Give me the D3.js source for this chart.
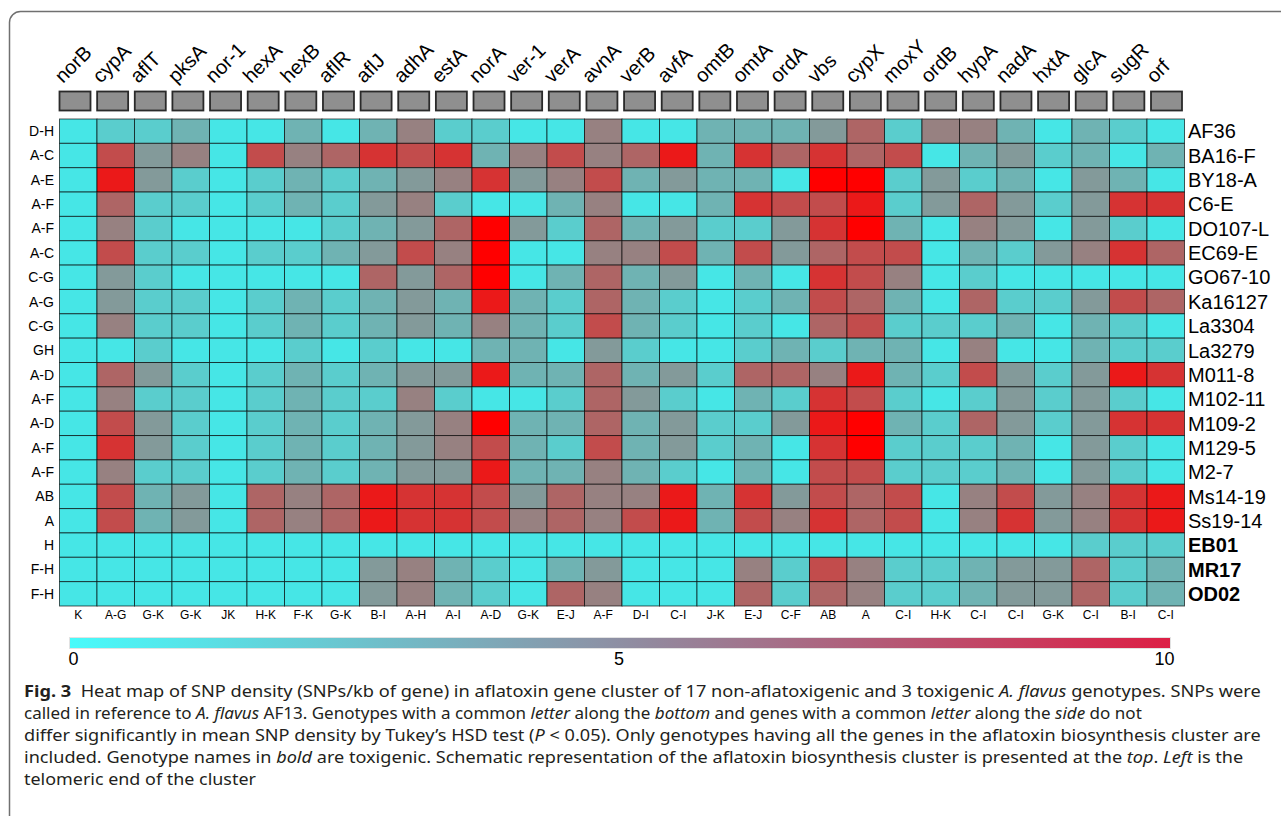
<!DOCTYPE html>
<html>
<head>
<meta charset="utf-8">
<script src="https://cdn.jsdelivr.net/npm/d3@7"></script>
<style>
body { margin: 0; background: #fff; }
svg { display: block; }
</style>
</head>
<body>
<div id="chart"></div>
<script>
// genes of the aflatoxin cluster, telomeric end first
var genes = ["norB","cypA","aflT","pksA","nor-1","hexA","hexB","aflR","aflJ","adhA",
	"estA","norA","ver-1","verA","avnA","verB","avfA","omtB","omtA","ordA",
	"vbs","cypX","moxY","ordB","hypA","nadA","hxtA","glcA","sugR","orf"];

var genotypes = ["AF36","BA16-F","BY18-A","C6-E","DO107-L","EC69-E","GO67-10","Ka16127",
	"La3304","La3279","M011-8","M102-11","M109-2","M129-5","M2-7","Ms14-19","Ss19-14",
	"EB01","MR17","OD02"];
var toxigenic = ["EB01","MR17","OD02"];

// Tukey letters: side = genotypes, bottom = genes
var genotypeLetters = ["D-H","A-C","A-E","A-F","A-F","A-C","C-G","A-G","C-G","GH",
	"A-D","A-F","A-D","A-F","A-F","AB","A","H","F-H","F-H"];
var geneLetters = ["K","A-G","G-K","G-K","JK","H-K","F-K","G-K","B-I","A-H",
	"A-I","A-D","G-K","E-J","A-F","D-I","C-I","J-K","E-J","C-F",
	"AB","A","C-I","H-K","C-I","C-I","G-K","C-I","B-I","C-I"];

// SNPs/kb, one row per genotype (same order as genotypes)
var density = [
	[0,1.1,1.1,2.2,0,0,2.2,0,2.2,4.4,1.1,1.1,0,0,4.4,0,0,2.2,2.2,2.2,3.3,5.6,1.1,4.4,4.4,2.2,0,2.2,1.1,0],
	[0,6.7,3.3,4.4,0,6.7,4.4,5.6,7.8,6.7,7.8,2.2,4.4,6.7,4.4,5.6,8.9,2.2,7.8,5.6,7.8,5.6,6.7,0,2.2,3.3,1.1,2.2,0,2.2],
	[0,8.9,3.3,1.1,0,1.1,2.2,1.1,2.2,3.3,4.4,7.8,3.3,4.4,6.7,2.2,3.3,2.2,2.2,0,10,10,1.1,3.3,1.1,2.2,0,3.3,2.2,0],
	[0,5.6,1.1,1.1,0,1.1,2.2,1.1,3.3,4.4,1.1,0,0,2.2,4.4,0,0,2.2,7.8,6.7,6.7,8.9,1.1,3.3,5.6,3.3,1.1,3.3,7.8,7.8],
	[0,4.4,1.1,0,0,0,0,1.1,2.2,3.3,5.6,10,3.3,1.1,5.6,2.2,3.3,1.1,1.1,3.3,7.8,10,2.2,0,4.4,3.3,0,3.3,1.1,0],
	[0,6.7,1.1,1.1,0,1.1,1.1,2.2,3.3,6.7,4.4,10,0,0,4.4,4.4,6.7,2.2,6.7,3.3,5.6,6.7,6.7,0,2.2,1.1,3.3,4.4,7.8,5.6],
	[0,3.3,1.1,0,0,0,0,0,5.6,3.3,5.6,10,0,2.2,5.6,2.2,3.3,0,2.2,0,7.8,6.7,4.4,0,1.1,0,0,0,0,0],
	[0,3.3,1.1,1.1,0,1.1,2.2,1.1,2.2,3.3,2.2,8.9,2.2,1.1,5.6,2.2,1.1,0,1.1,2.2,6.7,5.6,2.2,0,5.6,1.1,1.1,3.3,6.7,5.6],
	[0,4.4,1.1,1.1,0,1.1,2.2,1.1,2.2,3.3,2.2,4.4,2.2,1.1,6.7,2.2,1.1,0,1.1,0,5.6,6.7,1.1,1.1,1.1,2.2,0,2.2,1.1,0],
	[0,0,1.1,0,0,0,1.1,0,1.1,0,0,2.2,2.2,0,3.3,1.1,0,0,1.1,2.2,1.1,2.2,2.2,0,4.4,0,0,2.2,1.1,1.1],
	[0,5.6,3.3,1.1,0,1.1,2.2,1.1,2.2,3.3,3.3,8.9,2.2,2.2,5.6,2.2,3.3,1.1,5.6,5.6,4.4,8.9,2.2,1.1,6.7,3.3,1.1,3.3,8.9,7.8],
	[0,4.4,1.1,1.1,0,1.1,2.2,1.1,1.1,4.4,1.1,0,0,1.1,5.6,3.3,1.1,0,2.2,1.1,7.8,6.7,1.1,0,1.1,3.3,1.1,3.3,1.1,0],
	[0,6.7,3.3,1.1,0,1.1,2.2,1.1,2.2,3.3,4.4,10,2.2,2.2,5.6,2.2,3.3,1.1,1.1,3.3,8.9,10,2.2,1.1,5.6,3.3,1.1,3.3,7.8,7.8],
	[0,7.8,3.3,1.1,0,1.1,2.2,1.1,2.2,3.3,4.4,6.7,2.2,1.1,6.7,2.2,3.3,1.1,2.2,0,7.8,10,1.1,1.1,1.1,2.2,0,3.3,1.1,0],
	[0,4.4,1.1,1.1,0,1.1,2.2,1.1,2.2,3.3,3.3,8.9,2.2,2.2,4.4,2.2,1.1,0,2.2,0,6.7,6.7,1.1,1.1,1.1,2.2,0,3.3,1.1,0],
	[0,6.7,2.2,3.3,0,5.6,4.4,5.6,8.9,7.8,7.8,6.7,3.3,5.6,4.4,4.4,8.9,2.2,7.8,3.3,6.7,5.6,6.7,0,4.4,6.7,3.3,4.4,7.8,8.9],
	[0,6.7,2.2,3.3,0,5.6,4.4,5.6,8.9,7.8,7.8,6.7,4.4,5.6,4.4,6.7,8.9,2.2,6.7,4.4,7.8,5.6,6.7,0,4.4,7.8,3.3,4.4,7.8,8.9],
	[0,0,0,0,0,0,0,0,0,0,0,0,0,0,0,0,0,0,0,0,0,0,0,0,0,0,0,1.1,1.1,1.1],
	[0,0,0,0,0,0,0,0,3.3,4.4,2.2,1.1,0,2.2,3.3,0,0,0,4.4,1.1,6.7,4.4,1.1,1.1,2.2,3.3,3.3,5.6,1.1,2.2],
	[0,0,0,0,0,0,0,0,3.3,4.4,2.2,1.1,0,5.6,4.4,0,0,0,5.6,1.1,5.6,4.4,1.1,1.1,2.2,3.3,3.3,5.6,1.1,2.2]
];

var legendTicks = [0, 5, 10];

// caption lines, each a list of [text, style]
var caption = [
	[["Fig. 3", "b"], ["  Heat map of SNP density (SNPs/kb of gene) in aflatoxin gene cluster of 17 non-aflatoxigenic and 3 toxigenic ", ""], ["A. flavus", "i"], [" genotypes. SNPs were", ""]],
	[["called in reference to ", ""], ["A. flavus", "i"], [" AF13. Genotypes with a common ", ""], ["letter", "i"], [" along the ", ""], ["bottom", "i"], [" and genes with a common ", ""], ["letter", "i"], [" along the ", ""], ["side", "i"], [" do not", ""]],
	[["differ significantly in mean SNP density by Tukey\u2019s HSD test (", ""], ["P", "i"], [" < 0.05). Only genotypes having all the genes in the aflatoxin biosynthesis cluster are", ""]],
	[["included. Genotype names in ", ""], ["bold", "i"], [" are toxigenic. Schematic representation of the aflatoxin biosynthesis cluster is presented at the ", ""], ["top", "i"], [". ", ""], ["Left", "i"], [" is the", ""]],
	[["telomeric end of the cluster", ""]]
];
var captionWidths = [1238, 1119, 1238, 1220, 232];

var W = 1281, H = 816;
var svg = d3.select("#chart").append("svg")
	.attr("width", W)
	.attr("height", H)
	.style("font-family", "'Liberation Sans', Arial, sans-serif");

// panel frame (runs off the right and bottom of the page)
svg.append("rect")
	.attr("x", 9.5).attr("y", 11.5)
	.attr("width", 1400).attr("height", 1000)
	.attr("rx", 11)
	.attr("fill", "none")
	.attr("stroke", "#707070")
	.attr("stroke-width", 1.5);

var x = d3.scaleBand().domain(genes).range([59.5, 1184.5]);
var y = d3.scaleBand().domain(genotypes).range([119, 606]);
var color = d3.scaleLinear().domain([0, 10]).range(["#46e6e6", "#ff0000"]);
var boxX = d3.scalePoint().domain(genes).range([75, 1166.5]);

// cluster schematic
svg.selectAll(".gbox")
	.data(genes)
	.enter().append("rect")
	.attr("class", "gbox")
	.attr("x", function(d) { return boxX(d) - 15.5; })
	.attr("y", 91.5)
	.attr("width", 31)
	.attr("height", 19)
	.attr("fill", "#8f8f8f")
	.attr("stroke", "#2a2a2a")
	.attr("stroke-width", 1.8);

svg.selectAll(".glabel")
	.data(genes)
	.enter().append("text")
	.attr("class", "glabel")
	.attr("transform", function(d) { return "translate(" + (boxX(d) - 12) + ",84) rotate(-45)"; })
	.attr("font-size", 20)
	.attr("fill", "#000")
	.text(function(d) { return d; });

// heat map cells
var cells = [];
density.forEach(function(row, i) {
	row.forEach(function(v, j) {
		cells.push({ genotype: genotypes[i], gene: genes[j], value: v });
	});
});

svg.append("g").selectAll("rect")
	.data(cells)
	.enter().append("rect")
	.attr("x", function(d) { return x(d.gene); })
	.attr("y", function(d) { return y(d.genotype); })
	.attr("width", x.bandwidth())
	.attr("height", y.bandwidth())
	.attr("fill", function(d) { return color(d.value); })
	.attr("stroke", "rgba(0,0,0,0.65)")
	.attr("stroke-width", 1);

// side letters
svg.selectAll(".side")
	.data(genotypes)
	.enter().append("text")
	.attr("class", "side")
	.attr("x", 54)
	.attr("y", function(d) { return y(d) + y.bandwidth() / 2; })
	.attr("dy", "0.35em")
	.attr("text-anchor", "end")
	.attr("font-size", 14)
	.text(function(d, i) { return genotypeLetters[i]; });

// genotype names
svg.selectAll(".gname")
	.data(genotypes)
	.enter().append("text")
	.attr("class", "gname")
	.attr("x", 1188)
	.attr("y", function(d) { return y(d) + y.bandwidth() / 2; })
	.attr("dy", "0.36em")
	.attr("font-size", 20)
	.attr("font-weight", function(d) { return toxigenic.indexOf(d) >= 0 ? "bold" : "normal"; })
	.text(function(d) { return d; });

// bottom letters
svg.selectAll(".bottom")
	.data(genes)
	.enter().append("text")
	.attr("class", "bottom")
	.attr("x", function(d) { return x(d) + x.bandwidth() / 2; })
	.attr("y", 619)
	.attr("text-anchor", "middle")
	.attr("font-size", 12)
	.text(function(d, i) { return geneLetters[i]; });

// colour bar
var defs = svg.append("defs");
var grad = defs.append("linearGradient").attr("id", "bar");
grad.append("stop").attr("offset", "0%").attr("stop-color", "#48fbfb");
grad.append("stop").attr("offset", "50%").attr("stop-color", "#8e8fa3");
grad.append("stop").attr("offset", "100%").attr("stop-color", "#dd1f45");

svg.append("rect")
	.attr("x", 69.5).attr("y", 637.5)
	.attr("width", 1101).attr("height", 11)
	.attr("fill", "url(#bar)")
	.attr("stroke", "#e2e2e2")
	.attr("stroke-width", 1);

var lx = d3.scaleLinear().domain([0, 10]).range([73, 1164]);
var axis = svg.append("g")
	.attr("transform", "translate(0,649)")
	.call(d3.axisBottom(lx).tickValues(legendTicks).tickSize(0).tickPadding(3).tickFormat(d3.format("d")));
axis.select(".domain").remove();
axis.selectAll("text")
	.attr("font-size", 18)
	.attr("font-family", "'Liberation Sans', Arial, sans-serif")
	.attr("fill", "#000");

// caption
caption.forEach(function(line, i) {
	var t = svg.append("text")
		.attr("x", 0)
		.attr("y", 0)
		.attr("font-family", "'Noto Sans', 'Open Sans', sans-serif")
		.attr("font-size", 16)
		.attr("fill", "#231f20");
	line.forEach(function(seg) {
		t.append("tspan")
			.attr("font-weight", seg[1] == "b" ? "bold" : "normal")
			.attr("font-style", seg[1] == "i" ? "italic" : "normal")
			.style("white-space", "pre")
			.text(seg[0]);
	});
	var w = t.node().getComputedTextLength();
	t.attr("transform", "translate(24," + (697 + i * 22) + ") scale(" + (captionWidths[i] / w) + ",1)");
});
</script>
</body>
</html>
